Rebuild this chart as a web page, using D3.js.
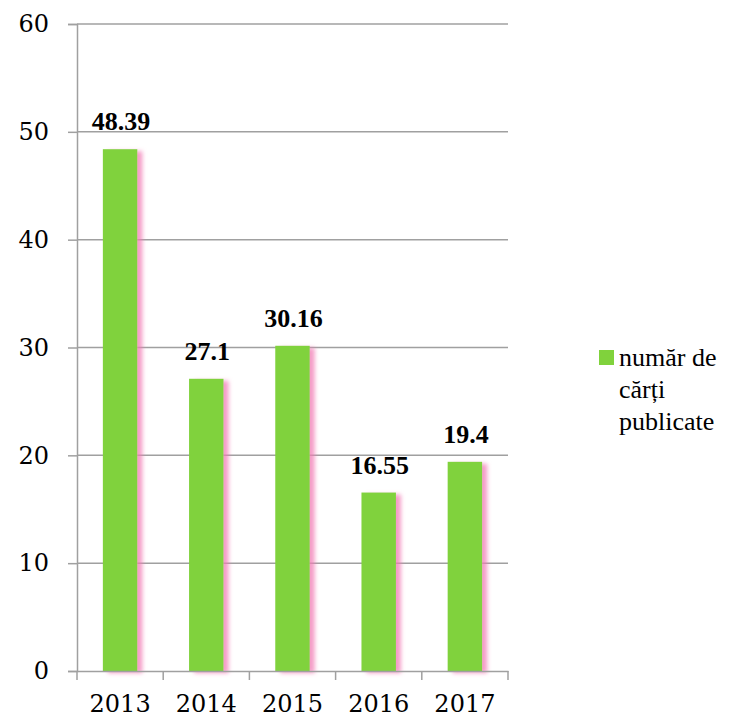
<!DOCTYPE html>
<html>
<head>
<meta charset="utf-8">
<script src="https://cdn.jsdelivr.net/npm/d3@7"></script>
<style>
  html, body { margin: 0; padding: 0; background: #fff; }
  svg { display: block; }
  .serif1 { font-family: 'DejaVu Serif', 'Liberation Serif', serif; }
  .serif2 { font-family: 'Liberation Serif', 'Times New Roman', 'DejaVu Serif', serif; }
</style>
</head>
<body>
<svg id="chart" width="734" height="720"></svg>
<script>
const categories = ["2013", "2014", "2015", "2016", "2017"];
const values = [48.39, 27.1, 30.16, 16.55, 19.4];
const valueLabels = ["48.39", "27.1", "30.16", "16.55", "19.4"];
const yTicks = [0, 10, 20, 30, 40, 50, 60];
const seriesName = ["număr de", "cărți", "publicate"];

(function () {
const svg = d3.select("#chart");
const mLeft = 77, mRight = 508, mTop = 24, mBottom = 671;
const gridColor = "#a0a0a0";
const barColor = "#80d23c";

const defs = svg.append("defs");
const f = defs.append("filter").attr("id", "shadow")
  .attr("x", "-30%").attr("y", "-10%").attr("width", "170%").attr("height", "130%");
f.append("feDropShadow").attr("dx", 5).attr("dy", 2).attr("stdDeviation", 2.2)
  .attr("flood-color", "#f27bb5").attr("flood-opacity", 0.75);

const x = d3.scaleBand().domain(categories).range([mLeft, mRight])
  .paddingInner(0.6).paddingOuter(0.3);
const y = d3.scaleLinear().domain([0, 60]).range([mBottom, mTop]);

// gridlines
svg.append("g").selectAll("line").data(yTicks.filter(d => d > 0)).join("line")
  .attr("x1", mLeft).attr("x2", mRight)
  .attr("y1", d => y(d)).attr("y2", d => y(d))
  .attr("stroke", gridColor).attr("stroke-width", 1.5);

// bars
svg.append("g").selectAll("rect").data(values).join("rect")
  .attr("x", (d, i) => x(categories[i]))
  .attr("y", d => y(d))
  .attr("width", x.bandwidth())
  .attr("height", d => y(0) - y(d))
  .attr("fill", barColor)
  .attr("filter", "url(#shadow)");

// y axis
const yAxis = svg.append("g").attr("transform", `translate(${mLeft},0)`)
  .call(d3.axisLeft(y).tickValues(yTicks).tickSize(9).tickPadding(19).tickFormat(d3.format("d")));
yAxis.attr("font-family", null);
yAxis.select(".domain").attr("stroke", gridColor).attr("stroke-width", 1.5);
yAxis.selectAll(".tick line").attr("stroke", gridColor).attr("stroke-width", 1.5);
yAxis.selectAll("text").attr("class", "serif1").attr("font-size", 24).attr("fill", "#000");

// x axis
const xAxis = svg.append("g").attr("transform", `translate(0,${mBottom})`)
  .call(d3.axisBottom(x).tickSize(0).tickPadding(24));
xAxis.attr("font-family", null);
xAxis.select(".domain").attr("stroke", gridColor).attr("stroke-width", 1.5);
xAxis.selectAll("text").attr("class", "serif1").attr("font-size", 24).attr("fill", "#000");
const boundaries = categories.map((c, i) => mLeft + i * x.step());
boundaries.push(mRight);
xAxis.append("g").selectAll("line").data(boundaries).join("line")
  .attr("x1", d => d).attr("x2", d => d).attr("y1", 0).attr("y2", 9)
  .attr("stroke", gridColor).attr("stroke-width", 1.5);

// value labels
svg.append("g").selectAll("text").data(values).join("text")
  .attr("class", "serif2")
  .attr("x", (d, i) => x(categories[i]) + x.bandwidth() / 2 + 1)
  .attr("y", d => y(d) - 19)
  .attr("text-anchor", "middle")
  .attr("font-weight", "bold")
  .attr("font-size", 26).attr("fill", "#000")
  .text((d, i) => valueLabels[i]);

// legend
const lg = svg.append("g");
lg.append("rect").attr("x", 599).attr("y", 350).attr("width", 15).attr("height", 15).attr("fill", barColor);
lg.selectAll("text").data(seriesName).join("text")
  .attr("class", "serif2")
  .attr("x", 619).attr("y", (d, i) => 366 + i * 32)
  .attr("font-size", 26).attr("fill", "#000")
  .text(d => d);
})();
</script>
</body>
</html>
